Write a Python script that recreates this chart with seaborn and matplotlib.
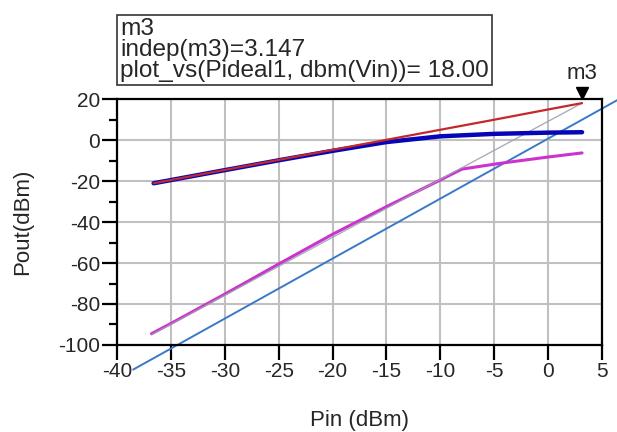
import matplotlib
matplotlib.use("Agg")
import matplotlib.pyplot as plt
import matplotlib.transforms as mtransforms
import seaborn as sns

# input power sweep (dBm)
pin_fund = [-36.6, -30, -25, -20, -15, -10, -5, 0, 3.147]
# ideal linear output (dBm)
pout_ideal = [-21.1, -14.6, -9.7, -4.8, 0.1, 5.0, 9.9, 14.9, 18.0]
# simulated fundamental output (dBm), compresses near 4 dBm
pout_fund = [-21.1, -14.7, -9.9, -5.3, -1.0, 1.8, 3.0, 3.6, 3.8]

# third-order intermod output (dBm)
pin_im3 = [-36.8, -35, -30, -25, -20, -15, -10, -8, -4.5, 0, 3.147]
pout_im3 = [-94.5, -89.5, -75.2, -60.5, -46.0, -32.5, -19.5, -14.2, -11.4, -8.3, -6.3]

# extrapolated IM3 line (ends at marker m3)
pin_im3_ext = [-36.8, 3.147]
pout_im3_ext = [-95.0, 18.0]

# reference slope-3 line
pin_ref = [-38.5, 6.6]
pout_ref = [-112.0, 20.0]

marker_x = 3.147
marker_y = 18.0

x_ticks = [-40, -35, -30, -25, -20, -15, -10, -5, 0, 5]
y_ticks = [-100, -80, -60, -40, -20, 0, 20]

sns.set_style("white")
plt.rcParams['font.family'] = ['Liberation Sans', 'DejaVu Sans']
plt.rcParams['axes.unicode_minus'] = False

fig = plt.figure(figsize=(6.17, 4.32), dpi=100)
ax = fig.add_axes([0.1896, 0.2014, 0.7861, 0.5694])

sns.lineplot(x=pin_ref, y=pout_ref, ax=ax, color='#3a78c8', lw=1.4,
             clip_on=False, zorder=2)
sns.lineplot(x=pin_im3, y=pout_im3, ax=ax, color='#cc33cc', lw=2.2, zorder=3)
sns.lineplot(x=pin_im3_ext, y=pout_im3_ext, ax=ax, color='#9aa0b0', lw=1.0,
             alpha=0.85, zorder=4)
sns.lineplot(x=pin_fund, y=pout_fund, ax=ax, color='#0606b8', lw=3.2, zorder=5)
sns.lineplot(x=pin_fund, y=pout_ideal, ax=ax, color='#c4282a', lw=1.6, zorder=6)

# marker m3
tri = mtransforms.offset_copy(ax.transData, fig=fig, x=0, y=10, units='dots')
ax.plot([marker_x], [marker_y], marker='v', color='black', markersize=8,
        transform=tri, clip_on=False, zorder=7)
ax.annotate('m3', xy=(marker_x, marker_y), xytext=(0, 14),
            textcoords='offset points', ha='center', va='bottom', fontsize=16)

ax.set_xlim(-40, 5)
ax.set_ylim(-100, 20)
ax.set_xticks(x_ticks)
ax.set_yticks(y_ticks)
ax.set_yticks([-90, -70, -50, -30, -10, 10], minor=True)
ax.grid(True, which='major', color='#c0c0c0', lw=1.5)
ax.set_axisbelow(True)

for s in ax.spines.values():
    s.set_color('black')
    s.set_linewidth(1.6)

ax.tick_params(axis='both', which='major', direction='out', length=11,
               width=1.6, color='black', labelsize=15, pad=1)
ax.tick_params(axis='y', which='minor', direction='out', length=6,
               width=1.6, color='black', left=True)
ax.tick_params(axis='x', which='major', bottom=True)
ax.tick_params(axis='y', which='major', left=True)

ax.set_xlabel('Pin (dBm)', fontsize=16, labelpad=21)
ax.set_ylabel('Pout(dBm)', fontsize=16, labelpad=18)

fig.text(0.195, 0.958,
         'm3\nindep(m3)=3.147\nplot_vs(Pideal1, dbm(Vin))= 18.00',
         ha='left', va='top', fontsize=17.6, linespacing=0.95,
         bbox=dict(boxstyle='square,pad=0.12', fc='white', ec='#333333', lw=1.2))

fig.savefig('out.png', dpi=100)
